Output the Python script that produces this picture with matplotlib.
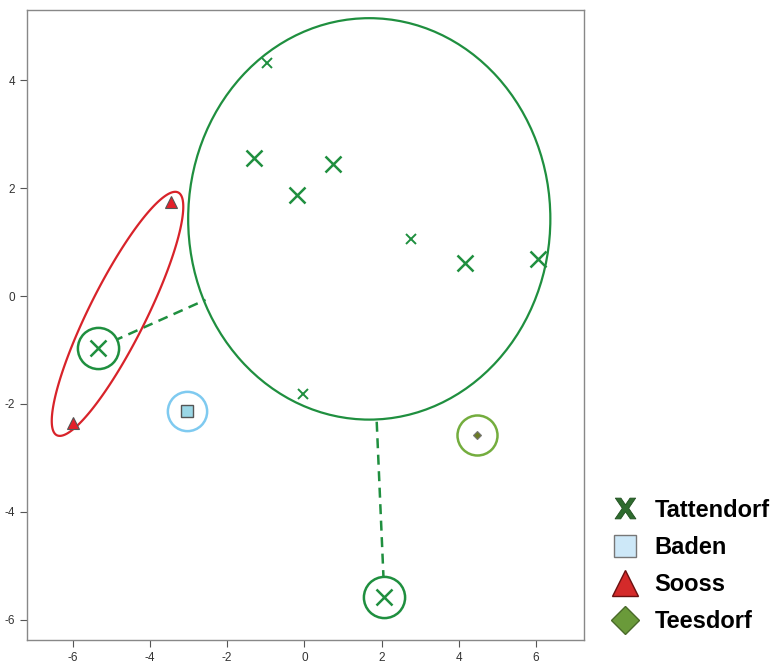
import numpy as np
import matplotlib.pyplot as plt
from matplotlib.lines import Line2D
from matplotlib.patches import Ellipse, Polygon

plt.rcParams['font.family'] = ['Liberation Sans', 'DejaVu Sans']
plt.rcParams['axes.unicode_minus'] = False

# Tattendorf samples (x, y)
tat_x = [-1.30, 0.75, -0.20, 4.15, 6.04]
tat_y = [2.56, 2.44, 1.87, 0.61, 0.69]
tat_small_x = [-0.98, 2.75, -0.03]
tat_small_y = [4.31, 1.06, -1.81]
# circled Tattendorf outliers
tat_out_x = [-5.34, 2.07]
tat_out_y = [-0.96, -5.57]
# where the dashed links hit the main ellipse
link_end_x = [-2.56, 1.87]
link_end_y = [-0.07, -2.28]

baden_x = [-3.03]
baden_y = [-2.13]
sooss_x = [-3.45, -5.98]
sooss_y = [1.74, -2.35]
tees_x = [4.46]
tees_y = [-2.57]

# ellipses: centre, semi axes (data units)
tat_ell_c = (1.68, 1.43)
tat_ell_r = (4.69, 3.72)
sooss_ell_c = (-4.84, -0.33)
sooss_ell_u = (1.57, 2.25)
sooss_ell_v = (0.66, -0.23)

green = '#1f8f3f'
red = '#d8232a'

fig = plt.figure(figsize=(7.76, 6.72), dpi=100)
ax = fig.add_axes([0.035, 0.048, 0.718, 0.937])

ax.add_patch(Ellipse(tat_ell_c, 2 * tat_ell_r[0], 2 * tat_ell_r[1],
                     fill=False, edgecolor=green, lw=1.6, zorder=2))
t = np.linspace(0, 2 * np.pi, 400)
sx = sooss_ell_c[0] + sooss_ell_u[0] * np.cos(t) + sooss_ell_v[0] * np.sin(t)
sy = sooss_ell_c[1] + sooss_ell_u[1] * np.cos(t) + sooss_ell_v[1] * np.sin(t)
ax.add_patch(Polygon(np.column_stack([sx, sy]), closed=True, fill=False,
                     edgecolor=red, lw=1.6, zorder=2))

for i in range(len(tat_out_x)):
    ax.plot([tat_out_x[i], link_end_x[i]], [tat_out_y[i], link_end_y[i]],
            color=green, lw=1.8, ls=(0, (4, 2.6)), zorder=1)

ax.scatter(tat_out_x, tat_out_y, s=880, facecolor='white', edgecolor=green, lw=1.8, zorder=3)
ax.scatter(baden_x, baden_y, s=800, facecolor='white', edgecolor='#7fcaf0', lw=1.8, zorder=3)
ax.scatter(tees_x, tees_y, s=830, facecolor='white', edgecolor='#74ad3e', lw=1.8, zorder=3)

ax.plot(tat_x, tat_y, 'x', color=green, ms=11, mew=1.8, ls='none', zorder=4)
ax.plot(tat_small_x, tat_small_y, 'x', color=green, ms=6.5, mew=1.4, ls='none', zorder=4)
ax.plot(tat_out_x, tat_out_y, 'x', color=green, ms=11, mew=1.8, ls='none', zorder=4)
ax.plot(baden_x, baden_y, 's', color='#9bd7e6', mec='#555555', ms=8.5, mew=1, ls='none', zorder=4)
ax.plot(sooss_x, sooss_y, '^', color='#e4202a', mec='#555555', ms=9, mew=0.8, ls='none', zorder=4)
ax.plot(tees_x, tees_y, 'D', color='#6b7a24', mec='#777777', ms=4.5, mew=0.8, ls='none', zorder=4)

ax.set_xlim(-7.18, 7.25)
ax.set_ylim(-6.37, 5.3)
ax.set_xticks([-6, -4, -2, 0, 2, 4, 6])
ax.set_yticks([-6, -4, -2, 0, 2, 4])
ax.tick_params(labelsize=8.5, length=5, width=0.8, color='#555555', labelcolor='#333333')
for s in ax.spines.values():
    s.set_color('#888888')
    s.set_linewidth(1)

handles = [
    Line2D([], [], marker=r'$\mathbf{X}$', color='#2e6b2e', mec='#1f4f1f', ms=15, mew=0.6, ls='none'),
    Line2D([], [], marker='s', color='#cde8f8', mec='#777777', ms=16, ls='none'),
    Line2D([], [], marker='^', color='#d42a2a', mec='#6a1010', ms=19, ls='none'),
    Line2D([], [], marker='D', color='#6a9a3a', mec='#4a6a2a', ms=14, ls='none'),
]
labels = ['Tattendorf', 'Baden', 'Sooss', 'Teesdorf']
fig.legend(handles, labels, loc='upper left', bbox_to_anchor=(0.778, 0.272),
           frameon=False, prop={'weight': 'bold', 'size': 17},
           handlelength=1.0, handletextpad=0.75, labelspacing=0.6, borderaxespad=0)

fig.savefig('out.png', dpi=100)
